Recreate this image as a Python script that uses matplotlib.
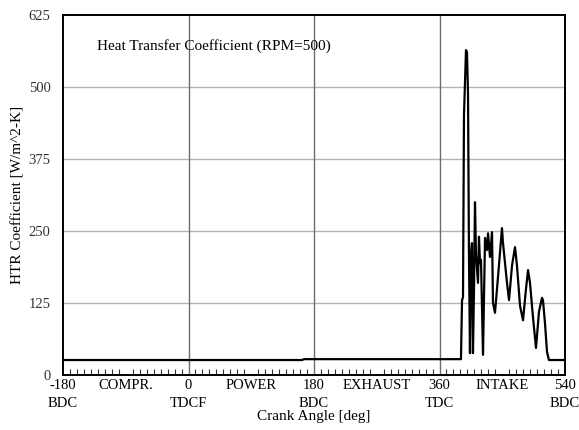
import matplotlib.pyplot as plt
import numpy as np

plt.rcParams['font.family'] = ['Liberation Serif', 'DejaVu Serif']

# crank angle [deg] and heat transfer coefficient [W/m^2-K]
angle = [-180, 162.8, 165.7, 388.0, 390.8, 392.3, 393.7, 395.1, 398.0, 399.4,
         400.9, 402.3, 403.7, 405.2, 406.6, 408.0, 409.5, 410.9, 412.3, 415.2,
         416.6, 418.1, 419.5, 422.4, 425.3, 428.1, 429.6, 432.4, 435.3, 436.7,
         439.6, 443.9, 449.6, 451.1, 456.8, 459.7, 464.0, 468.3, 471.1, 475.5,
         479.8, 484.1, 487.0, 489.8, 494.1, 498.4, 502.7, 507.0, 508.4, 511.3,
         514.2, 517.0, 540]
htc = [26, 26, 27.5, 27.5, 27.5, 130, 135, 450, 564, 560,
       490, 200, 38, 210, 229, 38, 150, 300, 210, 160,
       240, 194, 200, 35, 238, 217, 246, 205, 248, 125,
       108, 170, 255, 229, 160, 130, 190, 222, 190, 120,
       95, 150, 182, 160, 100, 47, 110, 134, 130, 90,
       40, 26, 26]

tick_pos = [-180, -90, 0, 90, 180, 270, 360, 450, 540]
tick_lab = ['-180\nBDC', 'COMPR.\n', '0\nTDCF', 'POWER\n', '180\nBDC',
            'EXHAUST\n', '360\nTDC', 'INTAKE\n', '540\nBDC']
y_ticks = [0, 125, 250, 375, 500, 625]

fs = 11
fs_tick = 10.5

fig = plt.figure(figsize=(5.79, 4.30), dpi=100)
ax = fig.add_axes([63 / 579, 55 / 430, 502 / 579, 360 / 430])

for v in y_ticks[1:-1]:
    ax.axhline(v, color='#b4b4b4', lw=1.0, zorder=1)
for v in [0, 180, 360]:
    ax.axvline(v, color='#6e6e6e', lw=1.0, zorder=1)

ax.plot(angle, htc, color='black', lw=1.6, zorder=3)

ax.set_xlim(-180, 540)
ax.set_ylim(0, 625)
ax.set_xticks(tick_pos)
ax.set_xticklabels(tick_lab, fontsize=fs_tick, linespacing=1.45)
ax.set_xticks(np.arange(-180, 541, 10), minor=True)
ax.set_yticks(y_ticks)
ax.tick_params(axis='x', which='major', length=0, pad=3)
ax.tick_params(axis='x', which='minor', direction='in', length=4, width=0.8,
               color='#333333')
ax.tick_params(axis='y', length=0, pad=9, labelsize=fs_tick, labelcolor='#333333')
for s in ax.spines.values():
    s.set_linewidth(1.4)

ax.set_xlabel('Crank Angle [deg]', fontsize=fs, labelpad=0)
ax.set_ylabel('HTR Coefficient [W/m^2-K]', fontsize=fs, labelpad=3)
ax.text(0.068, 0.915, 'Heat Transfer Coefficient (RPM=500)', transform=ax.transAxes,
        fontsize=fs, va='center', ha='left')

fig.savefig('out.png', dpi=100)
